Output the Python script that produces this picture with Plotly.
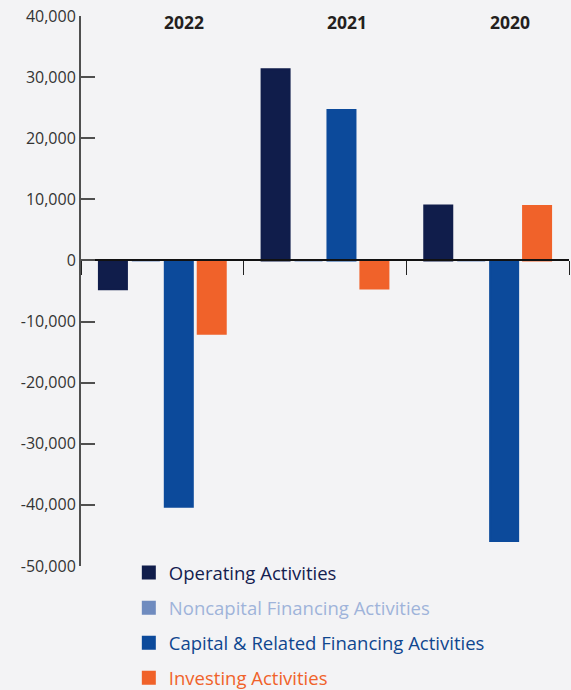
import plotly.graph_objects as go

# Cash flow components by fiscal year
years = ["2022", "2021", "2020"]
series_names = [
    "Operating Activities",
    "Noncapital Financing Activities",
    "Capital & Related Financing Activities",
    "Investing Activities",
]
operating = [-4700, 31300, 9000]
noncapital = [0, 0, 0]
capital = [-40300, 24600, -45900]
investing = [-12000, -4600, 8900]

y_ticks = [40000, 30000, 20000, 10000, 0, -10000, -20000, -30000, -40000, -50000]
y_tick_labels = ["40,000", "30,000", "20,000", "10,000", "0",
                 "-10,000", "-20,000", "-30,000", "-40,000", "-50,000"]

bar_colors = ["#101d4b", "#6f8bbf", "#0c4a9b", "#f0622a"]
text_colors = ["#13204f", "#9fb3da", "#0f468f", "#f0622a"]
bg = "#f3f3f5"

fig = go.Figure()
for name, vals, col, tcol in zip(series_names, [operating, noncapital, capital, investing],
                                 bar_colors, text_colors):
    fig.add_trace(go.Bar(
        x=years, y=vals,
        name=f"<span style='color:{tcol}'>{name}</span>",
        legendgroup=name,
        marker=dict(color=col, line=dict(color=col, width=2)),
    ))

# year labels over each group (category index, numeric-looking strings confuse annotations)
for i, yr in enumerate(years):
    fig.add_annotation(
        x=i, y=1, xref="x", yref="paper", yanchor="middle",
        yshift=-6, xshift=22, showarrow=False, text=f"<b>{yr}</b>",
        font=dict(size=17.5, color="#231f20", family="Open Sans"),
    )

y_min, y_max = -50000, 40000
fig.update_layout(
    width=571, height=690,
    margin=dict(l=81, r=2, t=16, b=124, autoexpand=False),
    paper_bgcolor=bg, plot_bgcolor=bg,
    barmode="group", bargap=0.19, bargroupgap=0.15,
    font=dict(family="Open Sans", size=16, color="#333333"),
    showlegend=True,
    legend=dict(
        x=0.098, y=0.197, xanchor="left", yanchor="top", yref="container",
        bgcolor="rgba(0,0,0,0)", tracegroupgap=8,
        font=dict(size=18.5, family="Open Sans"),
        traceorder="grouped",
    ),
    xaxis=dict(
        type="category", categoryorder="array", categoryarray=years,
        range=[-0.5, 2.5], showticklabels=False,
        anchor="free", position=(0 - y_min) / (y_max - y_min),
        showline=True, linecolor="#111111", linewidth=2,
        ticks="outside", tickson="boundaries", ticklen=14,
        tickcolor="#222222", tickwidth=1,
        showgrid=False, zeroline=False,
    ),
    yaxis=dict(
        range=[y_min, y_max], tickvals=y_ticks, ticktext=y_tick_labels,
        showline=True, linecolor="#4f4f4f", linewidth=2,
        ticks="inside", ticklen=14, tickwidth=2, tickcolor="#4f4f4f",
        ticklabelstandoff=0,
        tickfont=dict(size=16, color="#333333", family="Open Sans"),
        showgrid=False, zeroline=False,
    ),
)

fig.write_html(
    "out.html",
    config={"displayModeBar": False},
    post_script=f"document.body.style.margin='0';document.body.style.background='{bg}';",
)
